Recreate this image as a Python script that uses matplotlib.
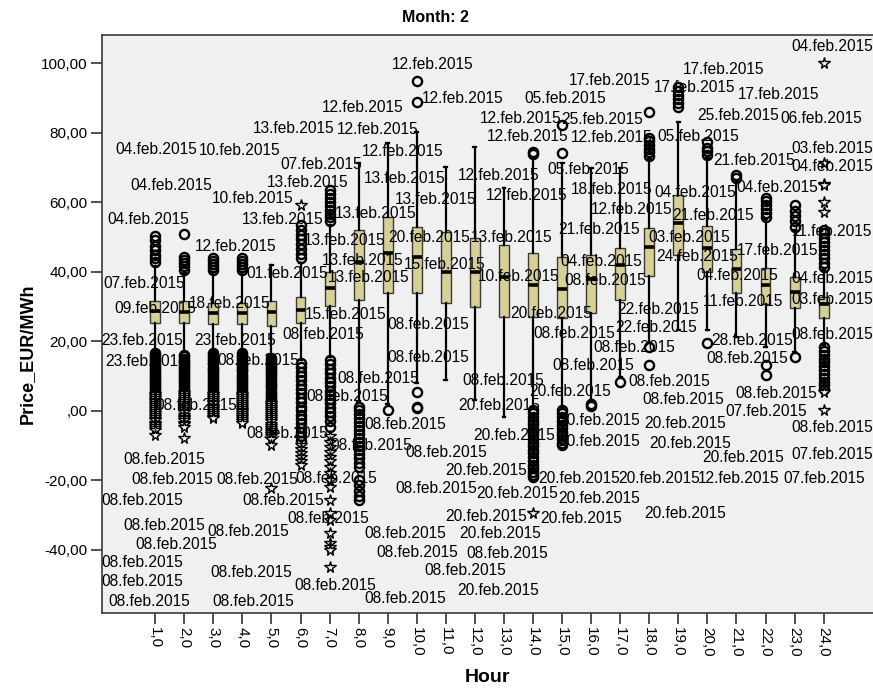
import matplotlib
matplotlib.use("Agg")
import matplotlib.pyplot as plt

plt.rcParams['font.family'] = ['Liberation Sans', 'DejaVu Sans']

hours = list(range(1, 25))

# box statistics per hour
q1 = [25.1, 25.1, 24.9, 24.9, 24.4, 25.1, 30.1, 31.9, 33.8, 33.8, 30.9, 29.9,
      27.1, 27.1, 26.6, 28.0, 31.9, 38.8, 44.8, 40.0, 34.0, 30.7, 29.5, 26.6]
med = [28.8, 28.5, 28.0, 28.2, 28.5, 29.0, 35.2, 42.9, 45.3, 44.3, 40.0, 40.0,
       38.6, 36.2, 34.9, 37.8, 41.9, 47.2, 53.9, 46.7, 40.7, 36.2, 34.2, 30.7]
q3 = [31.7, 31.7, 31.1, 31.1, 31.7, 32.8, 40.0, 52.0, 55.8, 53.0, 51.5, 49.6,
      47.7, 45.5, 44.3, 44.8, 46.7, 52.5, 62.1, 53.1, 46.4, 41.0, 38.6, 32.8]
whisker_lo = [17.5, 17.0, 17.5, 17.5, 16.0, 14.5, 15.5, 2.5, 1.8, 8.0, 8.8, 3.1,
              -1.7, 1.2, 1.0, 3.1, 9.8, 19.4, 23.2, 23.2, 21.3, 18.4, 17.0, 19.0]
whisker_hi = [41.5, 39.5, 39.8, 39.8, 41.9, 42.5, 53.4, 71.2, 77.0, 80.3, 70.2, 76.0,
              64.0, 72.8, 71.2, 69.8, 69.8, 72.4, 83.2, 72.8, 65.9, 55.2, 52.0, 40.5]

# outliers (open circles) per hour
circle_out = [
    [50.3, 49.0, 47.5, 46.2, 44.8, 43.9, 42.9,
     16.6, 16.1, 15.4, 15.0, 14.3, 13.8, 13.2, 12.6, 12.1, 11.5, 10.9, 10.4, 9.8,
     9.3, 8.7, 8.2, 7.6, 7.0, 6.5, 5.9, 5.4],
    [50.8, 44.3, 43.5, 42.6, 41.7, 40.6,
     16.1, 15.6, 15.0, 14.4, 13.9, 13.3, 12.8, 12.2, 11.7, 11.1, 10.5, 10.0, 9.4,
     8.9, 8.3, 7.8, 7.2, 6.6, 6.1, 5.6],
    [44.0, 43.1, 42.3, 41.4, 40.5,
     16.6, 16.0, 15.5, 14.9, 14.4, 13.8, 13.3, 12.7, 12.1, 11.6, 11.0, 10.5, 9.9,
     9.4, 8.8, 8.2, 7.7, 7.1, 6.6, 6.0, 5.4],
    [44.0, 43.0, 42.2, 41.3, 40.4,
     16.6, 16.0, 15.4, 14.9, 14.3, 13.8, 13.2, 12.7, 12.1, 11.6, 11.0, 10.4, 9.9,
     9.3, 8.8, 8.2, 7.7, 7.1, 6.6, 6.0, 5.3],
    [15.2, 14.6, 14.0, 13.4, 12.8, 12.2, 11.7, 11.1, 10.5, 9.9, 9.3, 8.7, 8.1,
     7.5, 7.0, 6.4, 5.8, 5.2, 4.6, 4.0, 3.4, 2.9],
    [53.4, 52.0, 50.7, 49.3, 48.0, 46.6, 45.2, 43.9,
     13.7, 12.6, 11.2, 10.1, 8.7, 7.5, 6.3, 5.0, 3.8, 2.6, 1.2, 0.1, -1.2, -2.5,
     -3.6, -5.0, -6.2, -7.4, -8.7],
    [63.5, 62.4, 61.2, 60.1, 59.0, 57.8, 56.7, 55.6, 54.5,
     14.6, 13.3, 12.1, 10.8, 9.5, 8.3, 7.0, 5.8, 4.6, 3.3, 2.1, 0.9, -0.3, -1.6,
     -2.9, -4.6],
    [1.2, 0.1, -1.0, -2.2, -3.3, -4.5, -5.6, -6.8, -7.9, -9.1, -10.2, -11.4, -12.5,
     -13.7, -14.9, -16.1, -20.0, -21.5, -23.0, -24.4, -25.7],
    [0.2],
    [95.0, 88.9, 5.5, 1.1, 0.7],
    [],
    [],
    [],
    [74.3, 73.9, 0.2, -0.8, -1.8, -2.9, -3.9, -5.0, -6.0, -7.1, -8.1, -9.2, -10.2,
     -11.3, -12.3, -13.4, -14.4, -15.5, -16.5, -17.6, -18.5, -19.0],
    [82.2, 74.1, 0.2, -0.8, -1.9, -2.9, -4.0, -5.0, -6.1, -7.1, -8.2, -9.2, -9.9],
    [2.0, 1.4],
    [8.3],
    [86.0, 78.6, 77.5, 76.4, 75.3, 74.3, 73.2, 18.4, 13.2],
    [93.2, 92.1, 90.9, 89.8, 88.6, 87.5],
    [77.4, 75.6, 74.6, 73.6, 19.4],
    [67.8, 66.9],
    [61.1, 60.2, 59.1, 58.0, 56.9, 55.8, 13.2, 10.3],
    [59.2, 57.6, 56.0, 54.5, 52.9, 15.5],
    [52.0, 51.0, 49.8, 48.6, 47.4, 46.2, 45.0, 43.8, 42.6, 41.4,
     18.4, 17.3, 16.1, 15.0, 13.9, 12.8, 11.7, 10.6, 9.5, 8.4, 7.3, 6.2],
]

# extreme values (stars) per hour
star_out = [
    [4.9, 4.3, 3.8, 3.2, 2.7, 2.1, 1.6, 1.0, 0.5, -0.1, -0.6, -1.2, -1.7, -2.3,
     -2.8, -3.4, -3.9, -4.5, -5.0, -5.5, -7.0],
    [5.0, 4.5, 3.9, 3.4, 2.8, 2.2, 1.7, 1.1, 0.6, 0.0, -0.5, -1.1, -1.7, -2.2,
     -2.8, -3.4, -3.9, -4.6, -7.9],
    [4.8, 4.3, 3.7, 3.2, 2.6, 2.1, 1.5, 1.0, 0.4, -0.1, -0.7, -1.2, -1.8, -2.2],
    [4.7, 4.2, 3.6, 3.1, 2.5, 2.0, 1.4, 0.9, 0.3, -0.2, -0.8, -1.3, -1.9, -2.4,
     -3.0, -3.6],
    [2.3, 1.7, 1.1, 0.5, -0.1, -0.7, -1.3, -1.9, -2.5, -3.1, -3.7, -4.3, -4.9,
     -5.5, -6.1, -6.7, -7.3, -8.0, -9.9, -22.2],
    [59.2, -9.9, -11.0, -12.2, -13.4, -14.5, -15.5],
    [-7.4, -9.0, -10.4, -11.8, -13.2, -14.6, -16.1, -18.0, -19.9, -21.9, -25.7,
     -29.5, -31.4, -35.3, -38.2, -39.1, -40.1, -44.9],
    [], [], [], [], [], [],
    [-29.5],
    [], [], [], [], [], [], [], [], [],
    [100.0, 71.2, 65.3, 64.9, 60.1, 57.3, 5.4, 0.2],
]

# case labels: (hour, price, text)
case_labels = [
    (8.14, 87.1, "12.feb.2015"), (5.76, 81.1, "13.feb.2015"), (8.66, 80.8, "12.feb.2015"),
    (1.03, 75.2, "04.feb.2015"), (3.90, 75.0, "10.feb.2015"), (9.52, 74.7, "12.feb.2015"),
    (6.72, 70.8, "07.feb.2015"), (6.24, 65.8, "13.feb.2015"), (9.59, 66.7, "13.feb.2015"),
    (1.55, 64.9, "04.feb.2015"), (4.34, 61.1, "10.feb.2015"), (10.66, 60.8, "13.feb.2015"),
    (8.59, 56.6, "13.feb.2015"), (0.76, 55.0, "04.feb.2015"), (5.38, 55.0, "13.feb.2015"),
    (7.52, 49.1, "13.feb.2015"), (10.41, 49.7, "20.feb.2015"), (13.28, 49.8, "13.feb.2015"),
    (3.76, 47.3, "12.feb.2015"), (8.14, 43.1, "13.feb.2015"), (10.97, 42.1, "15.feb.2015"),
    (5.55, 39.6, "01.feb.2015"), (8.34, 38.2, "13.feb.2015"), (0.62, 36.7, "07.feb.2015"),
    (3.55, 30.9, "18.feb.2015"), (1.00, 29.5, "09.feb.2015"), (7.55, 27.8, "15.feb.2015"),
    (13.52, 38.6, "10.feb.2015"),
    (10.55, 99.7, "12.feb.2015"), (11.59, 89.9, "12.feb.2015"), (15.10, 89.7, "05.feb.2015"),
    (13.59, 84.1, "12.feb.2015"), (16.38, 83.9, "25.feb.2015"), (13.83, 78.8, "12.feb.2015"),
    (16.69, 78.6, "12.feb.2015"), (16.62, 94.9, "17.feb.2015"), (15.90, 69.4, "05.feb.2015"),
    (12.83, 67.6, "12.feb.2015"), (16.72, 63.7, "18.feb.2015"), (13.79, 61.9, "12.feb.2015"),
    (17.38, 57.8, "12.feb.2015"), (16.28, 52.2, "21.feb.2015"), (16.34, 42.9, "04.feb.2015"),
    (16.48, 37.6, "08.feb.2015"),
    (20.55, 98.2, "17.feb.2015"), (19.55, 92.9, "17.feb.2015"), (22.45, 91.1, "17.feb.2015"),
    (21.07, 85.0, "25.feb.2015"), (23.90, 84.1, "06.feb.2015"), (19.69, 78.8, "05.feb.2015"),
    (24.28, 104.7, "04.feb.2015"), (24.28, 75.5, "03.feb.2015"), (21.59, 72.0, "21.feb.2015"),
    (24.28, 70.2, "04.feb.2015"), (19.59, 62.8, "04.feb.2015"), (22.41, 64.1, "04.feb.2015"),
    (20.21, 56.3, "21.feb.2015"), (24.28, 51.6, "11.feb.2015"), (19.38, 49.8, "03.feb.2015"),
    (22.41, 46.1, "17.feb.2015"), (19.66, 44.3, "24.feb.2015"), (21.03, 38.8, "04.feb.2015"),
    (24.28, 38.1, "04.feb.2015"), (21.21, 31.3, "11.feb.2015"), (24.28, 31.9, "03.feb.2015"),
    (18.31, 29.1, "22.feb.2015"), (18.24, 23.8, "22.feb.2015"),
    (14.62, 28.1, "20.feb.2015"), (10.41, 24.9, "08.feb.2015"), (15.41, 22.3, "08.feb.2015"),
    (6.79, 21.8, "08.feb.2015"), (0.55, 20.3, "23.feb.2015"), (3.76, 20.3, "23.feb.2015"),
    (24.28, 21.8, "08.feb.2015"), (21.55, 20.3, "28.feb.2015"), (17.48, 18.3, "08.feb.2015"),
    (0.69, 14.3, "23.feb.2015"), (4.55, 14.4, "08.feb.2015"), (10.38, 15.4, "08.feb.2015"),
    (21.38, 15.1, "08.feb.2015"), (16.07, 12.9, "08.feb.2015"), (8.66, 9.3, "08.feb.2015"),
    (12.97, 8.8, "08.feb.2015"), (18.69, 8.3, "08.feb.2015"), (15.28, 5.5, "20.feb.2015"),
    (22.38, 5.0, "08.feb.2015"), (7.62, 4.0, "08.feb.2015"), (19.17, 3.1, "08.feb.2015"),
    (2.41, 1.6, "08.feb.2015"), (12.83, 1.6, "20.feb.2015"), (22.03, -0.3, "07.feb.2015"),
    (16.28, -2.8, "20.feb.2015"), (19.24, -3.8, "20.feb.2015"), (9.62, -4.1, "08.feb.2015"),
    (24.28, -4.8, "08.feb.2015"), (5.55, -6.5, "08.feb.2015"), (13.34, -7.0, "20.feb.2015"),
    (16.28, -9.0, "20.feb.2015"), (19.41, -9.4, "20.feb.2015"), (8.45, -9.9, "08.feb.2015"),
    (11.03, -12.0, "08.feb.2015"), (24.28, -12.5, "07.feb.2015"), (21.24, -13.4, "20.feb.2015"),
    (1.31, -14.0, "08.feb.2015"), (12.38, -17.1, "20.feb.2015"), (1.59, -19.7, "08.feb.2015"),
    (4.52, -19.7, "08.feb.2015"), (7.24, -19.5, "08.feb.2015"), (15.59, -19.5, "20.feb.2015"),
    (18.34, -19.5, "20.feb.2015"), (21.07, -19.5, "12.feb.2015"), (24.03, -19.5, "07.feb.2015"),
    (10.66, -22.3, "08.feb.2015"), (13.45, -23.7, "20.feb.2015"), (16.28, -25.2, "20.feb.2015"),
    (0.55, -25.7, "08.feb.2015"), (5.41, -25.7, "08.feb.2015"), (19.24, -29.5, "20.feb.2015"),
    (12.38, -30.5, "20.feb.2015"), (15.66, -31.0, "20.feb.2015"), (6.97, -31.0, "08.feb.2015"),
    (1.31, -32.9, "08.feb.2015"), (4.21, -34.8, "08.feb.2015"), (9.59, -35.3, "08.feb.2015"),
    (12.86, -35.3, "20.feb.2015"), (1.72, -38.4, "08.feb.2015"), (10.00, -40.8, "08.feb.2015"),
    (13.10, -41.0, "08.feb.2015"), (0.55, -43.7, "08.feb.2015"), (11.66, -46.0, "08.feb.2015"),
    (4.31, -46.6, "08.feb.2015"), (0.55, -49.0, "08.feb.2015"), (7.21, -50.2, "08.feb.2015"),
    (12.79, -51.6, "20.feb.2015"), (9.59, -53.9, "08.feb.2015"), (0.79, -54.8, "08.feb.2015"),
    (4.38, -54.8, "08.feb.2015"),
]

y_ticks = [-40, -20, 0, 20, 40, 60, 80, 100]


def comma_label(v, decimals):
    s = f"{v:.{decimals}f}".replace(".", ",")
    if s.startswith("0,"):
        s = s[1:]
    return s


fig = plt.figure(figsize=(8.73, 6.9), dpi=100)
ax = fig.add_axes([101.7 / 873, 1 - 613 / 690, (876 - 101.7) / 873, (613 - 35) / 690])
ax.set_facecolor("#f0f0f0")

stats = []
for i in range(len(hours)):
    stats.append(dict(med=med[i], q1=q1[i], q3=q3[i],
                      whislo=whisker_lo[i], whishi=whisker_hi[i], fliers=[]))

ax.bxp(stats, positions=hours, widths=0.34, showfliers=False, patch_artist=True,
       boxprops=dict(facecolor="#d6cf96", edgecolor="#3a3a3a", linewidth=1.0),
       medianprops=dict(color="black", linewidth=2.6),
       whiskerprops=dict(color="black", linewidth=1.6),
       capprops=dict(color="black", linewidth=1.6), capwidths=0.1)

for h, vals in zip(hours, circle_out):
    if vals:
        ax.plot([h] * len(vals), vals, linestyle="none", marker="o", markersize=6.6,
                markerfacecolor="none", markeredgecolor="black", markeredgewidth=1.7,
                zorder=3)
for h, vals in zip(hours, star_out):
    if vals:
        ax.plot([h] * len(vals), vals, linestyle="none", marker="*", markersize=8.5,
                markerfacecolor="#f0f0f0", markeredgecolor="black", markeredgewidth=1.0,
                zorder=3)

for x, y, t in case_labels:
    ax.text(x, y, t, ha="center", va="center", fontsize=11.2, color="black", zorder=5)

ax.set_xlim(-0.84, 25.8)
ax.set_ylim(-58.2, 108.1)

ax.set_yticks(y_ticks)
ax.set_yticklabels([comma_label(v, 2) for v in y_ticks], fontsize=11)
ax.set_xticks(hours)
ax.set_xticklabels([comma_label(h, 1) for h in hours], rotation=-90, fontsize=11)
ax.tick_params(axis="both", direction="out", length=8, width=1.2, color="#333333", pad=2)

for sp in ax.spines.values():
    sp.set_color("#3a3a3a")
    sp.set_linewidth(1.2)

fig.text(435 / 873, 1 - 18 / 690, "Month: 2", ha="center", va="center",
         fontsize=11.5, fontweight="bold")
fig.text(488 / 873, 1 - 678 / 690, "Hour", ha="center", va="center",
         fontsize=14, fontweight="bold")
fig.text(27 / 873, 1 - 354 / 690, "Price_EUR/MWh", ha="center", va="center",
         rotation=90, fontsize=13, fontweight="bold")

fig.savefig("out.png", dpi=100)
